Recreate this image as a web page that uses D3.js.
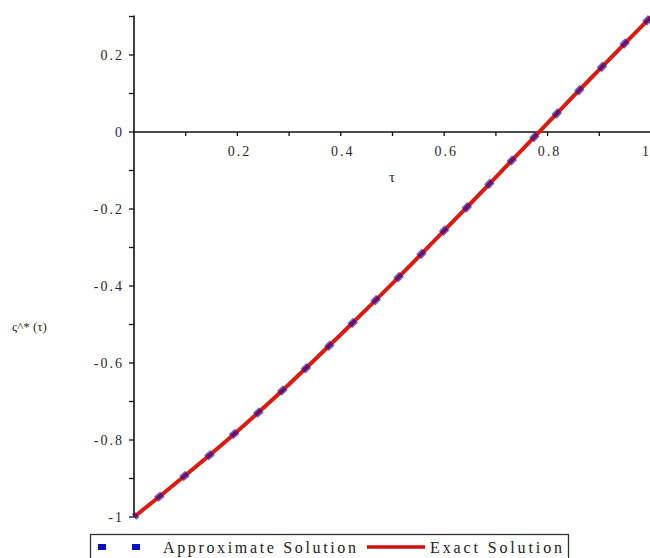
<!DOCTYPE html>
<html>
<head>
<meta charset="utf-8">
<script src="https://cdn.jsdelivr.net/npm/d3@7"></script>
<style>
  body { margin: 0; background: #fff; }
</style>
</head>
<body>
<div class="chart"></div>
<script>
// values
const tau = [0, 0.05, 0.1, 0.15, 0.2, 0.25, 0.3, 0.35, 0.4, 0.45, 0.5,
             0.55, 0.6, 0.65, 0.7, 0.75, 0.8, 0.85, 0.9, 0.95, 1];
const exactSol = [-1.0, -0.946, -0.891, -0.835, -0.777, -0.717, -0.655, -0.591, -0.526, -0.460, -0.393,
                  -0.325, -0.256, -0.187, -0.117, -0.047, 0.023, 0.093, 0.162, 0.231, 0.299];
const approxSol = [-1.0, -0.946, -0.891, -0.835, -0.777, -0.717, -0.655, -0.591, -0.526, -0.460, -0.393,
                   -0.325, -0.256, -0.187, -0.117, -0.047, 0.023, 0.093, 0.162, 0.231, 0.299];
const xMajor = [0.2, 0.4, 0.6, 0.8, 1];
const xMinor = [0.1, 0.3, 0.5, 0.7, 0.9];
const yMajor = [-1, -0.8, -0.6, -0.4, -0.2, 0, 0.2];
const yMinor = [-0.9, -0.7, -0.5, -0.3, -0.1, 0.1, 0.3];
const seriesNames = ["Approximate Solution", "Exact Solution"];

const w = 650, h = 558;
const serif = "'Liberation Serif', 'Times New Roman', 'DejaVu Serif', serif";

const svg = d3.select(".chart").append("svg")
    .attr("width", w)
    .attr("height", h)
    .attr("font-family", serif);

const xScale = d3.scaleLinear().domain([0, 1]).range([134, 651]);
const yScale = d3.scaleLinear().domain([-1, 0.3]).range([517, 16.5]);

const fmt = v => d3.format("")(v).replace("\u2212", "-");

// x axis along y = 0
svg.append("line")
    .attr("x1", xScale(0)).attr("x2", w)
    .attr("y1", yScale(0)).attr("y2", yScale(0))
    .attr("stroke", "#111").attr("stroke-width", 1.6);

svg.append("g").selectAll("line")
    .data(xMajor.concat(xMinor))
    .join("line")
    .attr("x1", d => xScale(d)).attr("x2", d => xScale(d))
    .attr("y1", yScale(0)).attr("y2", yScale(0) + 4)
    .attr("stroke", "#111").attr("stroke-width", 1.3);

svg.append("g").selectAll("text")
    .data(xMajor)
    .join("text")
    .attr("x", d => d === 1 ? 649 : xScale(d) + 2)
    .attr("y", yScale(0) + 24)
    .attr("text-anchor", d => d === 1 ? "end" : "middle")
    .attr("font-size", 14)
    .attr("letter-spacing", d => d === 1 ? 0 : 2)
    .attr("fill", "#2a2a2a")
    .text(fmt);

svg.append("text")
    .attr("x", 392).attr("y", 182)
    .attr("text-anchor", "middle")
    .attr("font-size", 15)
    .attr("fill", "#2a2a2a")
    .text("\u03c4");

// y axis along x = 0
svg.append("line")
    .attr("x1", xScale(0)).attr("x2", xScale(0))
    .attr("y1", yScale(0.3) - 1).attr("y2", yScale(-1))
    .attr("stroke", "#111").attr("stroke-width", 1.6);

svg.append("g").selectAll("line")
    .data(yMajor.concat(yMinor))
    .join("line")
    .attr("x1", xScale(0) - 5).attr("x2", xScale(0))
    .attr("y1", d => yScale(d)).attr("y2", d => yScale(d))
    .attr("stroke", "#111").attr("stroke-width", 1.3);

svg.append("g").selectAll("text")
    .data(yMajor)
    .join("text")
    .attr("x", 124)
    .attr("y", d => yScale(d) + 5)
    .attr("text-anchor", "end")
    .attr("font-size", 14)
    .attr("letter-spacing", 2)
    .attr("fill", "#2a2a2a")
    .text(fmt);

svg.append("text")
    .attr("x", 12).attr("y", 331)
    .attr("font-size", 13)
    .attr("fill", "#2a2a2a")
    .text("\u03c2^* (\u03c4)");

// curves
const pts = tau.map((t, i) => ({t, exact: exactSol[i], approx: approxSol[i]}));

const exactLine = d3.line()
    .curve(d3.curveMonotoneX)
    .x(d => xScale(d.t))
    .y(d => yScale(d.exact));

const approxLine = d3.line()
    .curve(d3.curveMonotoneX)
    .x(d => xScale(d.t))
    .y(d => yScale(d.approx));

svg.append("path")
    .datum(pts)
    .attr("fill", "none")
    .attr("stroke", "#dd1a10")
    .attr("stroke-width", 4)
    .attr("d", exactLine);

svg.append("path")
    .datum(pts)
    .attr("fill", "none")
    .attr("stroke", "#2a0a9a")
    .attr("stroke-opacity", 0.62)
    .attr("stroke-width", 7)
    .attr("stroke-dasharray", "8,24.5")
    .attr("stroke-dashoffset", 4)
    .attr("d", approxLine);

// legend
const leg = svg.append("g");
leg.append("rect")
    .attr("x", 90.5).attr("y", 534.5)
    .attr("width", 478).attr("height", 30)
    .attr("fill", "#fff")
    .attr("stroke", "#333").attr("stroke-width", 1.3);

leg.selectAll(".sq")
    .data([102, 136])
    .join("rect")
    .attr("x", d => d - 4).attr("y", 544)
    .attr("width", 8).attr("height", 6)
    .attr("fill", "#0a10c8");

leg.append("line")
    .attr("x1", 367).attr("x2", 425)
    .attr("y1", 547).attr("y2", 547)
    .attr("stroke", "#cc1010").attr("stroke-width", 3.5);

leg.selectAll(".lab")
    .data([{x: 163, len: 193, s: seriesNames[0]}, {x: 430, len: 132, s: seriesNames[1]}])
    .join("text")
    .attr("x", d => d.x).attr("y", 553)
    .attr("font-size", 16)
    .attr("fill", "#222")
    .attr("textLength", d => d.len)
    .attr("lengthAdjust", "spacing")
    .text(d => d.s);
</script>
</body>
</html>
